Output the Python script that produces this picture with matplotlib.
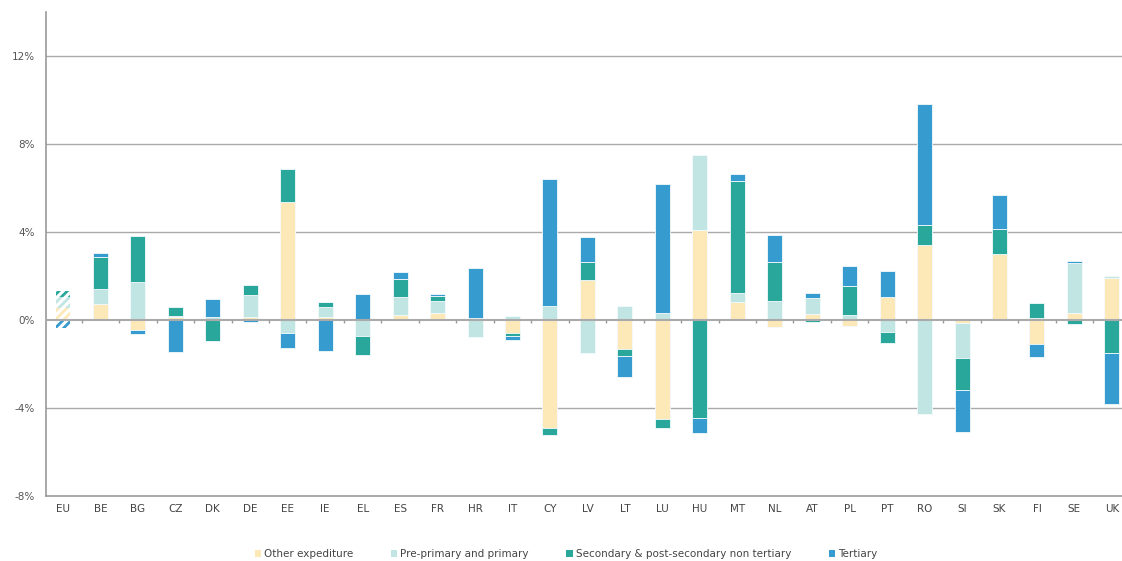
import matplotlib
matplotlib.use("Agg")
import matplotlib.pyplot as plt
import numpy as np
from matplotlib.patches import Patch

categories = ["EU", "BE", "BG", "CZ", "DK", "DE", "EE", "IE", "EL", "ES", "FR", "HR", "IT",
              "CY", "LV", "LT", "LU", "HU", "MT", "NL", "AT", "PL", "PT", "RO", "SI", "SK",
              "FI", "SE", "UK"]
other = [0.55, 0.73, -0.45, 0.12, 0.00, 0.12, 5.38, 0.12, 0.00, 0.23, 0.32, 0.03, -0.57,
         -4.89, 1.83, -1.33, -4.48, 4.09, 0.83, -0.30, 0.26, -0.26, 1.06, 3.39, -0.14, 3.00,
         -1.09, 0.32, 1.92]
pre_primary = [0.50, 0.70, 1.74, 0.08, 0.12, 1.02, -0.58, 0.47, -0.71, 0.83, 0.55, -0.79, 0.18,
               0.65, -1.48, 0.64, 0.33, 3.40, 0.42, 0.88, 0.74, 0.24, -0.53, -4.26, -1.58, 0.00,
               0.08, 2.26, 0.08]
secondary = [0.28, 1.45, 2.08, 0.39, -0.97, 0.45, 1.48, 0.23, -0.89, 0.80, 0.24, 0.06, -0.16,
             -0.35, 0.79, -0.32, -0.41, -4.47, 5.05, 1.74, -0.09, 1.29, -0.53, 0.91, -1.44, 1.12,
             0.68, -0.20, -1.52]
tertiary = [-0.35, 0.15, -0.17, -1.45, 0.82, -0.07, -0.67, -1.42, 1.18, 0.30, 0.08, 2.27, -0.18,
            5.74, 1.17, -0.92, 5.85, -0.68, 0.32, 1.24, 0.24, 0.94, 1.18, 5.52, -1.94, 1.58,
            -0.58, 0.08, -2.29]

series_names = ["Other expediture", "Pre-primary and primary",
                "Secondary & post-secondary non tertiary", "Tertiary"]
colors = ["#FDE8B8", "#C1E5E2", "#2AA79B", "#369BCF"]

plt.rcParams['font.family'] = ['DejaVu Sans']
plt.rcParams['hatch.linewidth'] = 2.0

fig = plt.figure(figsize=(11.22, 5.61), dpi=100)
ax = fig.add_axes([46/1122, 65/561, 1 - 46/1122, (496-12)/561])

x = np.arange(len(categories))
width = 0.4
pos_bottom = np.zeros(len(categories))
neg_bottom = np.zeros(len(categories))

for vals, col in zip([other, pre_primary, secondary, tertiary], colors):
    v = np.array(vals, dtype=float)
    bottoms = np.where(v >= 0, pos_bottom, neg_bottom)
    # non-EU bars
    ax.bar(x[1:], v[1:], width, bottom=bottoms[1:], color=col, edgecolor='#F4FAFC',
           linewidth=0.6, zorder=3)
    # EU hatched bar
    ax.bar(x[0], v[0], width, bottom=bottoms[0], facecolor='white', edgecolor=col,
           hatch='////', linewidth=0, zorder=3)
    pos_bottom = pos_bottom + np.where(v >= 0, v, 0)
    neg_bottom = neg_bottom + np.where(v < 0, v, 0)

ax.set_xlim(-0.454, len(categories) - 1 + 0.27)
ax.set_ylim(-8, 14)
ax.set_yticks([-8, -4, 0, 4, 8, 12])
ax.set_yticklabels([f"{t}%" for t in [-8, -4, 0, 4, 8, 12]])
for t in [-4, 4, 8, 12]:
    ax.axhline(t, color='#AAAAAA', lw=1.0, zorder=1)
ax.axhline(0, color='#AAAAAA', lw=1.5, zorder=4)
ax.vlines(x[:-1] + 0.5, -0.14, 0, color='#999999', lw=1.0, zorder=4)

ax.set_xticks(x)
ax.set_xticklabels(categories)
ax.tick_params(axis='x', length=0, pad=6, labelsize=7.5, colors='#444444')
ax.tick_params(axis='y', length=0, pad=8, labelsize=7.5, colors='#555555')
for s in ['top', 'right']:
    ax.spines[s].set_visible(False)
ax.spines['left'].set_color('#999999')
ax.spines['left'].set_linewidth(1.2)
ax.spines['bottom'].set_color('#999999')
ax.spines['bottom'].set_linewidth(1.2)

handles = [Patch(facecolor=c, edgecolor='none') for c in colors]
fig.legend(handles, series_names, loc='center', bbox_to_anchor=(566/1122, 1 - 554/561),
           ncol=4, frameon=False, fontsize=7.5, handlelength=0.6, handleheight=0.6,
           handletextpad=0.3, columnspacing=3.6, labelcolor='#444444')

fig.savefig("out.png", dpi=100)
